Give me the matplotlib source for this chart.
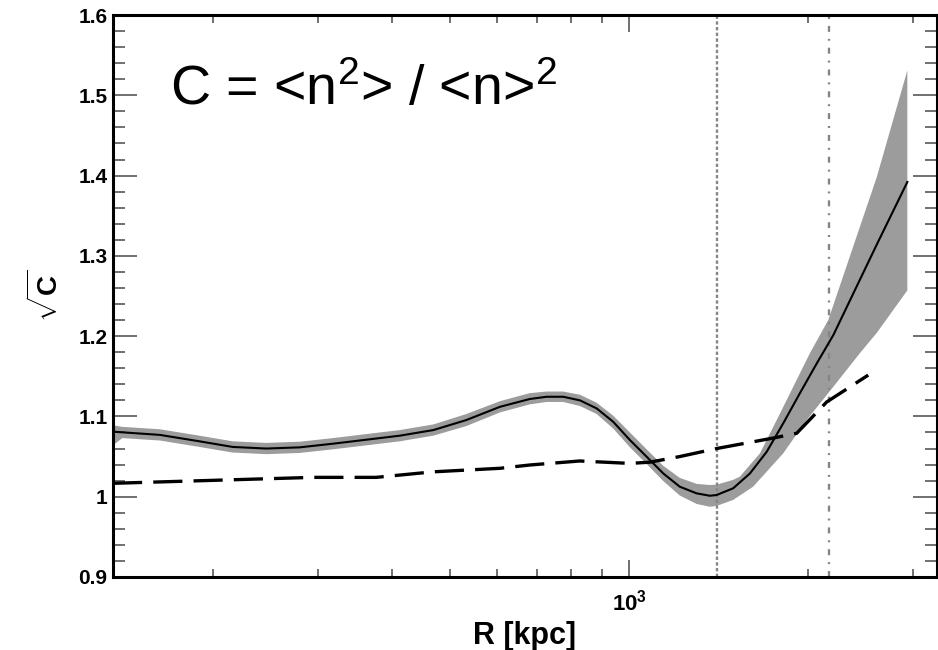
import matplotlib
matplotlib.use("Agg")
import matplotlib.pyplot as plt
from matplotlib.ticker import MultipleLocator, LogLocator, FuncFormatter, NullFormatter

plt.rcParams['font.family'] = ['Liberation Sans', 'DejaVu Sans']
plt.rcParams['mathtext.fontset'] = 'custom'
plt.rcParams['mathtext.rm'] = 'Liberation Sans'
plt.rcParams['mathtext.bf'] = 'Liberation Sans:bold'
plt.rcParams['mathtext.it'] = 'Liberation Sans:italic'
plt.rcParams['lines.scale_dashes'] = False

# ---- data ----
R_solid = [136, 163, 190, 216, 246, 280, 318, 362, 412, 469, 533, 607, 681, 727, 775, 827, 882,
           940, 1003, 1070, 1141, 1216, 1298, 1366, 1402, 1495, 1595, 1702, 1814, 1935, 2065,
           2202, 2604, 2931]
C_solid = [1.081, 1.077, 1.069, 1.062, 1.060, 1.0615, 1.066, 1.071, 1.076, 1.083, 1.0955, 1.112,
           1.1217, 1.1245, 1.1245, 1.120, 1.110, 1.0934, 1.0706, 1.0498, 1.029, 1.0125, 1.0042,
           1.0012, 1.0021, 1.0105, 1.029, 1.056, 1.0914, 1.129, 1.166, 1.2014, 1.314, 1.392]

R_upper = [136, 141, 163, 190, 216, 246, 280, 318, 362, 412, 469, 533, 607, 681, 727, 775, 827,
           882, 940, 1003, 1070, 1141, 1216, 1298, 1366, 1402, 1495, 1534, 1658, 1769, 1886, 2012,
           2159, 2604, 2931]
C_upper = [1.089, 1.087, 1.084, 1.076, 1.069, 1.067, 1.0685, 1.073, 1.078, 1.083, 1.090, 1.103,
           1.119, 1.129, 1.131, 1.131, 1.127, 1.117, 1.101, 1.080, 1.059, 1.0385, 1.0235, 1.016,
           1.0146, 1.015, 1.021, 1.025, 1.054, 1.0955, 1.137, 1.179, 1.220, 1.398, 1.531]

R_lower = [136, 141, 163, 190, 216, 246, 280, 318, 362, 412, 469, 533, 607, 681, 727, 775, 827,
           882, 940, 1003, 1070, 1141, 1216, 1298, 1366, 1402, 1495, 1615, 1814, 1986, 2202, 2441,
           2604, 2931]
C_lower = [1.064, 1.073, 1.070, 1.062, 1.055, 1.053, 1.0545, 1.059, 1.064, 1.069, 1.076, 1.088,
           1.105, 1.115, 1.118, 1.118, 1.113, 1.103, 1.085, 1.0616, 1.0408, 1.0195, 1.0015, 0.991,
           0.9875, 0.9885, 0.996, 1.0125, 1.054, 1.0955, 1.137, 1.179, 1.204, 1.257]

R_dash = [136, 295, 376, 469, 607, 681, 826, 1003, 1083, 1216, 1402, 1735, 1911, 2146, 2520]
C_dash = [1.0167, 1.0241, 1.0241, 1.031, 1.0354, 1.0395, 1.0445, 1.0415, 1.043, 1.050, 1.060,
          1.0727, 1.079, 1.118, 1.1515]

R_vdot = 1404
R_vdashdot = 2167

x_min, x_max = 136, 3287
y_min, y_max = 0.9, 1.6

formula = r'C = <n$^{2}$> / <n>$^{2}$'
xlabel = 'R [kpc]'
ylabel = r'$\sqrt{\mathbf{C}}$'

# ---- figure ----
fig = plt.figure(figsize=(9.38, 6.5), dpi=100)
ax = fig.add_axes([113/938, (650-577)/650, (937-113)/938, (577-15)/650])

ax.fill(R_upper + R_lower[::-1], C_upper + C_lower[::-1], color='#9c9c9c', linewidth=0, zorder=1)
ax.axvline(R_vdot, color='#858585', lw=1.7, linestyle=(0, (2.4, 1.7)), zorder=2)
ax.axvline(R_vdashdot, color='#858585', lw=1.7, linestyle=(0, (4.3, 5.0, 1.4, 5.0)), zorder=2)
ax.plot(R_dash, C_dash, color='black', lw=2.4, dashes=(21, 8), zorder=3)
ax.plot(R_solid, C_solid, color='black', lw=1.5, zorder=4)

ax.set_xscale('log')
ax.set_xlim(x_min, x_max)
ax.set_ylim(y_min, y_max)

ax.yaxis.set_major_locator(MultipleLocator(0.1))
ax.yaxis.set_minor_locator(MultipleLocator(0.02))
ax.yaxis.set_major_formatter(FuncFormatter(lambda v, p: f'{v:g}'))
ax.xaxis.set_major_locator(LogLocator(base=10))
ax.xaxis.set_minor_locator(LogLocator(base=10, subs=range(2, 10)))
ax.xaxis.set_minor_formatter(NullFormatter())
ax.xaxis.set_major_formatter(FuncFormatter(lambda v, p: r'$\mathbf{10^{3}}$' if abs(v-1000) < 1 else ''))

for s in ax.spines.values():
    s.set_linewidth(2.2)
    s.set_color('black')

tc = '#707070'
ax.tick_params(axis='both', which='both', direction='in', top=True, right=True, color=tc, width=1.4)
ax.tick_params(axis='y', which='major', length=17, pad=4)
ax.tick_params(axis='y', which='minor', length=8.5)
ax.tick_params(axis='x', which='major', length=12, pad=9)
ax.tick_params(axis='x', which='minor', length=6)
for lab in ax.get_yticklabels():
    lab.set_fontweight('bold')
    lab.set_fontsize(15)
for lab in ax.get_xticklabels():
    lab.set_fontweight('bold')
    lab.set_fontsize(16)

ax.set_xlabel(xlabel, fontsize=22, fontweight='bold', labelpad=4)
ax.set_ylabel(ylabel, fontsize=20, fontweight='bold', labelpad=10)

ax.text((170-113)/824, (577-105)/562, formula, transform=ax.transAxes, fontsize=40,
        ha='left', va='baseline')

fig.savefig('out.png', dpi=100)
